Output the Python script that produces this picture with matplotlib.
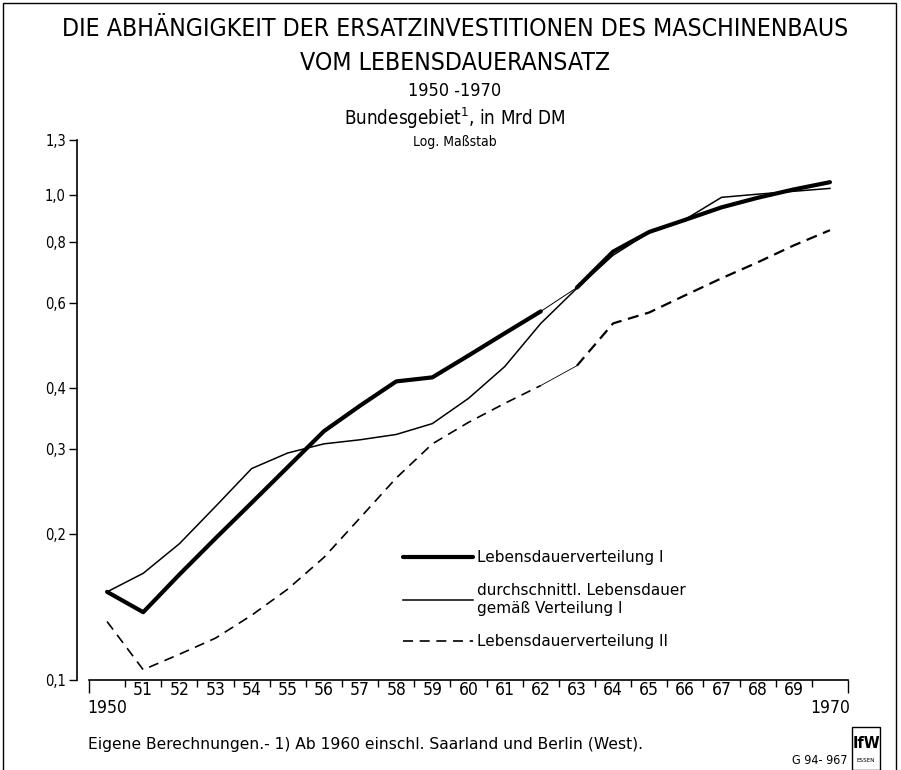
import numpy as np
import matplotlib.pyplot as plt
from matplotlib.patches import Rectangle
from matplotlib.ticker import NullLocator

plt.rcParams['font.family'] = ['DejaVu Sans']
plt.rcParams['font.stretch'] = 'condensed'

years = np.arange(1950, 1971)

# Lebensdauerverteilung I (dicke Linie)
verteilung_1 = [0.152, 0.138, 0.165, 0.196, 0.232, 0.275, 0.326, 0.368, 0.413, 0.421,
                0.467, 0.519, 0.576, 0.645, 0.765, 0.840, 0.890, 0.944, 0.988, 1.028, 1.064]
# durchschnittl. Lebensdauer gemaess Verteilung I (duenne Linie)
durchschnitt = [0.152, 0.166, 0.191, 0.228, 0.273, 0.294, 0.307, 0.313, 0.321, 0.338,
                0.381, 0.443, 0.544, 0.643, 0.752, 0.838, 0.892, 0.990, 1.005, 1.019, 1.033]
# Lebensdauerverteilung II (gestrichelt)
verteilung_2 = [0.132, 0.105, 0.113, 0.122, 0.136, 0.154, 0.179, 0.216, 0.261, 0.307,
                0.340, 0.372, 0.405, 0.445, 0.544, 0.573, 0.622, 0.674, 0.727, 0.788, 0.847]

ytick_vals = [0.1, 0.2, 0.3, 0.4, 0.6, 0.8, 1.0, 1.3]
ytick_labels = ['0,1', '0,2', '0,3', '0,4', '0,6', '0,8', '1,0', '1,3']
xtick_labels = ['1950'] + [str(y)[2:] for y in years[1:-1]] + ['1970']

legend_labels = ['Lebensdauerverteilung I',
                 'durchschnittl. Lebensdauer\ngemäß Verteilung I',
                 'Lebensdauerverteilung II']

fig = plt.figure(figsize=(9.01, 7.70), dpi=100)
ax = fig.add_axes([77 / 901, 90 / 770, 771 / 901, 540 / 770])

# the 1962-63 piece is printed thin in the original
i62 = list(years).index(1962)
ax.plot(years[:i62 + 1], verteilung_1[:i62 + 1], color='black', lw=3.0,
        solid_capstyle='round', label=legend_labels[0])
ax.plot(years[i62:i62 + 2], verteilung_1[i62:i62 + 2], color='black', lw=0.7)
ax.plot(years[i62 + 1:], verteilung_1[i62 + 1:], color='black', lw=3.0,
        solid_capstyle='round')

ax.plot(years, durchschnitt, color='black', lw=1.1, label=legend_labels[1])

ax.plot(years[:i62 + 1], verteilung_2[:i62 + 1], color='black', lw=1.2,
        dashes=(6, 4), label=legend_labels[2])
ax.plot(years[i62:i62 + 2], verteilung_2[i62:i62 + 2], color='black', lw=0.6)
ax.plot(years[i62 + 1:], verteilung_2[i62 + 1:], color='black', lw=1.6,
        dashes=(5, 3))

ax.set_yscale('log')
ax.set_ylim(0.1, 1.3)
ax.set_xlim(1949.5 - 12 / 36.143, 1970.5)

ax.set_yticks(ytick_vals)
ax.set_yticklabels(ytick_labels)
ax.yaxis.set_minor_locator(NullLocator())
ax.tick_params(axis='y', direction='out', length=6, width=1, labelsize=10.5, pad=2)

# x axis: ticks at the year boundaries, labels in the middle of each year
bounds = np.arange(1949.5, 1971.0, 1.0)
ax.set_xticks(bounds)
ax.set_xticklabels([''] * len(bounds))
ax.set_xticks(years, minor=True)
ax.set_xticklabels(xtick_labels, minor=True)
ax.tick_params(axis='x', which='major', direction='out', length=5, width=1)
ax.tick_params(axis='x', which='minor', length=0, labelsize=12.5, pad=1)
maj = ax.xaxis.get_major_ticks()
for t in (maj[0], maj[-1]):
    t.tick1line.set_markersize(9)
mino = ax.xaxis.get_minor_ticks()
for t in (mino[0], mino[-1]):
    t.set_pad(14)

for s in ('top', 'right'):
    ax.spines[s].set_visible(False)
ax.spines['bottom'].set_bounds(1949.5, 1970.5)
ax.spines['left'].set_linewidth(1.2)
ax.spines['bottom'].set_linewidth(1.2)

leg = ax.legend(loc='upper left', bbox_to_anchor=(0.4228, 0.2407), frameon=False,
                prop={'size': 11, 'stretch': 'normal'}, handlelength=4.6,
                handletextpad=0.25, labelspacing=1.2, borderpad=0, borderaxespad=0)

# titles
fig.text(0.505, 0.962, 'DIE ABHÄNGIGKEIT DER ERSATZINVESTITIONEN DES MASCHINENBAUS',
         ha='center', va='center', fontsize=17.8)
fig.text(0.505, 0.918, 'VOM LEBENSDAUERANSATZ', ha='center', va='center', fontsize=17.8)
fig.text(0.505, 0.882, '1950 -1970', ha='center', va='center', fontsize=13)
fig.text(0.505, 0.847, r'Bundesgebiet$^\mathregular{1}$, in Mrd DM', ha='center',
         va='center', fontsize=13.5)
fig.text(0.505, 0.815, 'Log. Maßstab', ha='center', va='center', fontsize=10)

fig.text(88 / 901, 1 - 745 / 770,
         'Eigene Berechnungen.- 1) Ab 1960 einschl. Saarland und Berlin (West).',
         ha='left', va='center', fontsize=11.2, stretch='normal')
fig.text(847 / 901, 1 - 760 / 770, 'G 94- 967', ha='right', va='center', fontsize=9)

# IfW logo box
fig.patches.append(Rectangle((852 / 901, 0.0), 28 / 901, 43 / 770, fill=False,
                             lw=1.0, color='black', transform=fig.transFigure))
fig.text(866 / 901, 1 - 743 / 770, 'IfW', ha='center', va='center', fontsize=11.5,
         fontweight='bold')
fig.text(866 / 901, 1 - 761 / 770, 'ESSEN', ha='center', va='center', fontsize=4.5)

# outer frame
fig.patches.append(Rectangle((3 / 901, -0.01), 893 / 901, 1.0 - 3 / 770 + 0.01,
                             fill=False, lw=1.0, color='black',
                             transform=fig.transFigure))

fig.savefig('out.png', dpi=100)
